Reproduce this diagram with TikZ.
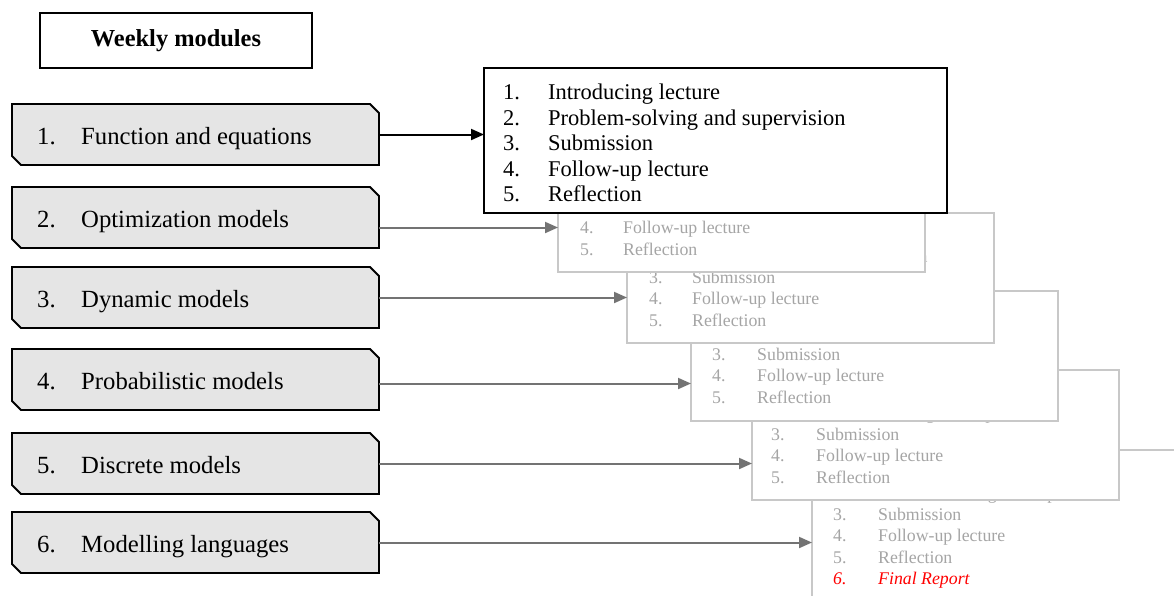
\documentclass[tikz,border=0pt]{standalone}
\usepackage{fontspec}
\setmainfont{Liberation Serif}
\usetikzlibrary{arrows.meta}
\definecolor{boxgray}{RGB}{229,229,229}
\definecolor{cardline}{RGB}{200,200,200}
\definecolor{cardtext}{RGB}{165,165,165}
\definecolor{arrowgray}{RGB}{115,115,115}
\definecolor{reportred}{RGB}{255,0,0}

\newcommand{\lessonrows}{1. & Introducing lecture\\ 2. & Problem-solving and supervision\\ 3. & Submission\\ 4. & Follow-up lecture\\ 5. & Reflection}

\tikzset{
  modbox/.style={rectangle, minimum width=367pt, minimum height=61pt, inner sep=0pt, outer sep=0pt},
  modedge/.style={draw, line width=1.8pt, fill=boxgray, line join=miter},
  modtxt/.style={inner sep=0pt, font=\fontsize{24.7}{29}\selectfont},
  card/.style={draw=cardline, line width=1.5pt, fill=white, minimum width=367pt,
    minimum height=130pt, inner sep=0pt, outer sep=0pt, anchor=north west},
  cardtxt/.style={inner sep=0pt, anchor=base west, text=cardtext,
    font=\fontsize{17.8}{21.3}\selectfont},
  link/.style={->, arrowgray, line width=2pt},
}

\begin{document}
\begin{tikzpicture}[x=1pt, y=-1pt, >={Triangle[length=13pt,width=11pt]}]
  \useasboundingbox (0,0) rectangle (1174,595);
  \clip (0,0) rectangle (1174,595);
  % Titel
  \node[draw, line width=1.6pt, minimum width=272pt, minimum height=55pt,
    font=\bfseries\fontsize{24.4}{29}\selectfont] (title) at (176,40.5) {Weekly modules};
  % Module links
  \foreach \i/\y/\name in {1/104/Function and equations, 2/187/Optimization models,
      3/267/Dynamic models, 4/349/Probabilistic models, 5/433/Discrete models,
      6/512/Modelling languages} {
    \node[modbox, anchor=north west] (mod\i) at (12,\y) {};
    \path[modedge] (mod\i.north west) -- ([xshift=-9pt]mod\i.north east)
      -- ([yshift=-9pt]mod\i.north east) -- (mod\i.south east)
      -- ([xshift=9pt]mod\i.south west) -- ([yshift=9pt]mod\i.south west) -- cycle;
    \node[modtxt, anchor=base west] (modtxt\i) at ([shift={(25,40)}]mod\i.north west)
      {\makebox[44pt][l]{\i.}\name};
  }
  % Karten (hinten nach vorne)
  \node[card, minimum height=165pt] (cardE) at (812,450) {};
  \node[cardtxt] (listE) at ([shift={(21,28)}]cardE.north west)
    {\begin{tabular}[t]{@{}p{45pt}@{}l@{}}\lessonrows\\
     \textcolor{reportred}{\textit{6.}} & \textcolor{reportred}{\textit{Final Report}}\end{tabular}};
  \node[card] (cardD) at (752,370) {};
  \node[cardtxt] (listD) at ([shift={(19,28)}]cardD.north west)
    {\begin{tabular}[t]{@{}p{45pt}@{}l@{}}\lessonrows\end{tabular}};
  \node[card] (cardC) at (691,291) {};
  \node[cardtxt] (listC) at ([shift={(21,27)}]cardC.north west)
    {\begin{tabular}[t]{@{}p{45pt}@{}l@{}}\lessonrows\end{tabular}};
  \node[card] (cardB) at (627,213) {};
  \node[cardtxt] (listB) at ([shift={(22,28)}]cardB.north west)
    {\begin{tabular}[t]{@{}p{43pt}@{}l@{}}\lessonrows\end{tabular}};
  \node[card] (cardA) at (558,142) {};
  \node[cardtxt] (listA) at ([shift={(22,28)}]cardA.north west)
    {\begin{tabular}[t]{@{}p{43pt}@{}l@{}}\lessonrows\end{tabular}};
  % Vorderste Karte
  \node[draw, line width=1.8pt, fill=white, minimum width=463pt, minimum height=145pt,
    inner sep=0pt, outer sep=0pt, anchor=north west] (lessons) at (484,68) {};
  \node[inner sep=0pt, anchor=base west, font=\fontsize{22.5}{25.6}\selectfont] (lessonlist)
    at ([shift={(19,31.5)}]lessons.north west)
    {\begin{tabular}[t]{@{}p{45pt}@{}l@{}}\lessonrows\end{tabular}};
  % Pfeile
  \coordinate (arr2) at ([yshift=-10pt]mod2.east);
  \coordinate (arr4) at ([yshift=-4pt]mod4.east);
  \draw[link, black] (mod1.east) -- (mod1.east -| lessons.west);
  \draw[link] (arr2) -- (arr2 -| cardA.west);
  \draw[link] (mod3.east) -- (mod3.east -| cardB.west);
  \draw[link] (arr4) -- (arr4 -| cardC.west);
  \draw[link] (mod5.east) -- (mod5.east -| cardD.west);
  \draw[link] (mod6.east) -- (mod6.east -| cardE.west);
\end{tikzpicture}
\end{document}
